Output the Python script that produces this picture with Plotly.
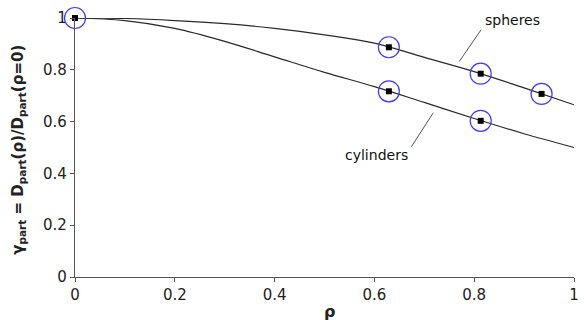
import plotly.graph_objects as go

# Smooth model curves (normalized particle diffusivity vs. rho)
rho_curve = [0.0, 0.1, 0.2, 0.3, 0.4, 0.5, 0.6, 0.7, 0.8, 0.9, 1.0]
spheres_curve = [1.0, 0.998, 0.99, 0.978, 0.96, 0.935, 0.903, 0.848, 0.793, 0.730, 0.665]
cylinders_curve = [1.0, 0.99, 0.96, 0.91, 0.85, 0.79, 0.735, 0.674, 0.612, 0.553, 0.50]

# Measured points
rho_origin = [0.0]
gamma_origin = [1.0]
rho_spheres = [0.629, 0.813, 0.935]
gamma_spheres = [0.887, 0.785, 0.707]
rho_cylinders = [0.629, 0.813]
gamma_cylinders = [0.717, 0.603]

tick_vals = [0, 0.2, 0.4, 0.6, 0.8, 1]
tick_text = ["0", "0.2", "0.4", "0.6", "0.8", "1"]

FONT = "DejaVu Sans, Verdana, sans-serif"
LINE = "#2a2a2a"
BLUE = "#3b3bff"

fig = go.Figure()

for ys in (spheres_curve, cylinders_curve):
    fig.add_trace(go.Scatter(
        x=rho_curve, y=ys, mode="lines",
        line=dict(color=LINE, width=1.2, shape="spline", smoothing=1.0),
        hoverinfo="skip", showlegend=False, cliponaxis=False,
    ))

all_x = rho_origin + rho_spheres + rho_cylinders
all_y = gamma_origin + gamma_spheres + gamma_cylinders

# Blue open circles around each measured point
fig.add_trace(go.Scatter(
    x=all_x, y=all_y, mode="markers",
    marker=dict(symbol="circle-open", size=21, color=BLUE, line=dict(width=1.2, color=BLUE)),
    showlegend=False, cliponaxis=False,
))
# Black squares at the measured points
fig.add_trace(go.Scatter(
    x=all_x, y=all_y, mode="markers",
    marker=dict(symbol="square", size=6, color="black"),
    showlegend=False, cliponaxis=False,
))

# Curve labels with leader lines
fig.add_shape(type="line", x0=0.814, y0=0.955, x1=0.77, y1=0.832,
              line=dict(color="#555555", width=1))
fig.add_shape(type="line", x0=0.674, y0=0.503, x1=0.718, y1=0.634,
              line=dict(color="#555555", width=1))
fig.add_annotation(x=0.876, y=0.993, text="spheres", showarrow=False,
                   font=dict(family=FONT, size=14, color="#111"))
fig.add_annotation(x=0.604, y=0.47, text="cylinders", showarrow=False,
                   font=dict(family=FONT, size=14, color="#111"))

# Axis titles
fig.add_annotation(xref="paper", yref="paper", x=-0.115, y=0.49,
                   xanchor="center", yanchor="middle", textangle=-90, showarrow=False,
                   text="<b>γ<sub>part</sub> = D<sub>part</sub>(ρ)/D<sub>part</sub>(ρ=0)</b>",
                   font=dict(family=FONT, size=15, color="#222"))
fig.add_annotation(xref="paper", yref="paper", x=0.511, y=-0.135,
                   xanchor="center", yanchor="middle", showarrow=False,
                   text="<b>ρ</b>", font=dict(family=FONT, size=16, color="#222"))

axis_common = dict(
    showgrid=False, zeroline=False, showline=True, linecolor="#555555", linewidth=1.2,
    ticks="outside", ticklen=4, tickcolor="#555555", tickwidth=1,
    tickfont=dict(family=FONT, size=15, color="#222"),
    tickvals=tick_vals, ticktext=tick_text, automargin=False,
)

fig.update_layout(
    width=584, height=320,
    margin=dict(l=75, r=10, t=18, b=43),
    paper_bgcolor="white", plot_bgcolor="white",
    xaxis=dict(range=[0, 1], **axis_common),
    yaxis=dict(range=[0, 1], **axis_common),
)

fig.write_html("out.html")
